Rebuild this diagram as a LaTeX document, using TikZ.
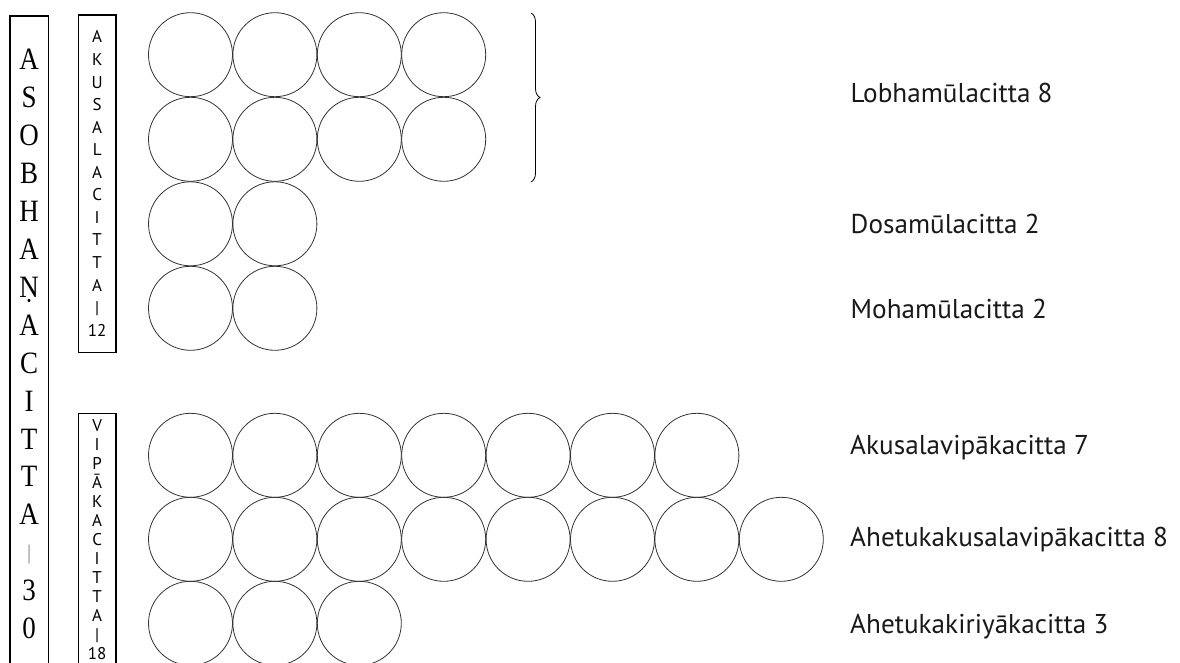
\documentclass[tikz,border=0pt]{standalone}
\usepackage{fontspec}
\setmainfont{PT Sans}
\newfontfamily\serifcol{Liberation Serif}
\usetikzlibrary{decorations.pathreplacing}
\begin{document}
\begin{tikzpicture}[x=1pt,y=-1pt,
  cell/.style={circle,draw=black!80,line width=0.8pt,minimum size=84pt,inner sep=0pt},
  colbox/.style={draw=black,line width=1.2pt},
  bigletter/.style={font=\serifcol\fontsize{27}{27}\selectfont,anchor=base,inner sep=0pt,yscale=1.15},
  smallletter/.style={font=\fontsize{17}{17}\selectfont,anchor=base,inner sep=0pt},
  rowlabel/.style={font=\fontsize{27.2}{30}\selectfont,anchor=base west,inner sep=0pt,text=black!90}]
\useasboundingbox (0,0) rectangle (1180,663);
\clip (0,0) rectangle (1180,663);
% column boxes
\draw[colbox] (10,16) rectangle (48.3,690);
\draw[colbox] (78.3,15) rectangle (116,352.7);
\draw[colbox] (78.3,413.3) rectangle (116,690);
% big column letters
\foreach \t [count=\i] in {A,S,O,B,H,A,Ṇ,A,C,I,T,T,A}
  \node[bigletter] (b\i) at (29.2,{60+37.9*(\i-1)+10}) {\t};
\node[bigletter,text=black!55,font=\serifcol\fontsize{18}{18}\selectfont] (bbar) at (29.2,{60+37.9*13+7}) {|};
\node[bigletter] (b3) at (29.2,{60+37.9*14+10}) {3};
\node[bigletter] (b0) at (29.2,{60+37.9*15+10}) {0};
% small column letters
\foreach \t [count=\i] in {A,K,U,S,A,L,A,C,I,T,T,A,|,12}
  \node[smallletter] (s\i) at (97.2,{37+22.55*(\i-1)+6}) {\t};
\foreach \t [count=\i] in {V,I,P,Ā,K,A,C,I,T,T,A,|,18}
  \node[smallletter] (v\i) at (97.2,{425+19*(\i-1)+6}) {\t};
% upper circles
\foreach \n/\y [count=\r] in {4/54.7,4/139.3,2/223.8,2/308.3}
  \foreach \k in {1,...,\n}
    \node[cell] (u\r-\k) at ({190.5+84.4*(\k-1)},\y) {};
% lower circles
\foreach \n/\y [count=\r] in {7/455.3,8/539.3,3/623.3}
  \foreach \k in {1,...,\n}
    \node[cell] (w\r-\k) at ({190.5+84.4*(\k-1)},\y) {};
% brace
\draw[line width=0.8pt,decorate,decoration={brace,amplitude=9pt}] (531,13) -- (531,182);
% labels
\node[rowlabel] (lobha) at (850.5,102.7) {Lobhamūlacitta 8};
\node[rowlabel] (dosa) at (850.5,233.3) {Dosamūlacitta 2};
\node[rowlabel] (moha) at (850.5,318.3) {Mohamūlacitta 2};
\node[rowlabel] (akv) at (850,454) {Akusalavipākacitta 7};
\node[rowlabel] (ahkv) at (850,546.7) {Ahetukakusalavipākacitta 8};
\node[rowlabel] (ahk) at (850,633.3) {Ahetukakiriyākacitta 3};
\end{tikzpicture}
\end{document}
